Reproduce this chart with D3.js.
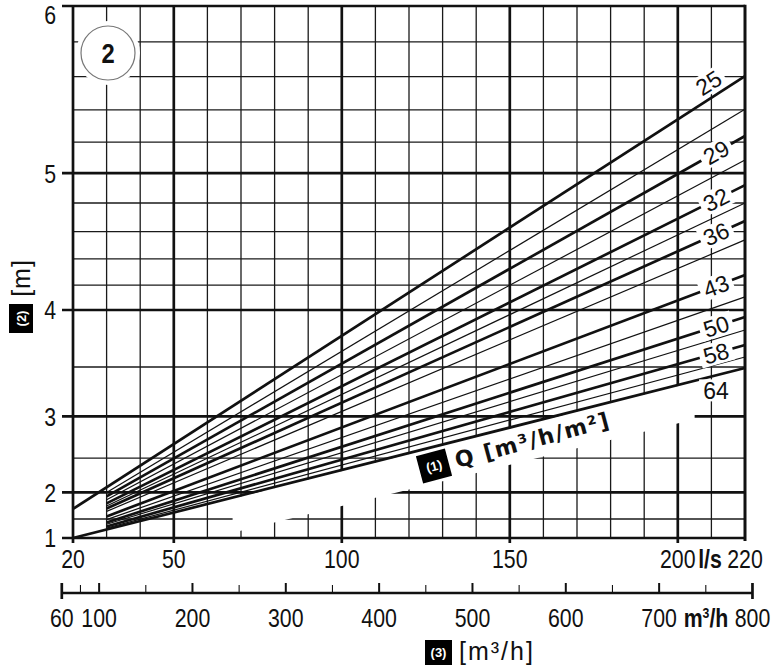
<!DOCTYPE html>
<html><head><meta charset="utf-8">
<script src="https://cdn.jsdelivr.net/npm/d3@7"></script>
<style>body{margin:0;background:#fff}</style>
</head><body><svg id="c" width="783" height="667"></svg>
<script>
// ---------- data ----------
const qDomain = [20, 220];            // l/s
const hDomain = [1, 6];               // m
const xTickValues = [20, 50, 100, 150, 200, 220];
const yTickValues = [1, 2, 3, 4, 5, 6];
const vGridMajor = [50, 100, 150, 200];
const vGridMinor = [30, 40, 60, 70, 80, 90, 110, 120, 130, 140, 160, 170, 180, 190, 210];
const hGridMajor = [2, 3, 4, 5];
const hGridMinor = [1.5, 2.5, 3.5, 4.2, 4.4, 4.6, 4.8, 5.2, 5.4, 5.6, 5.8];
const m3hMajor = [100, 200, 300, 400, 500, 600, 700];
const m3hMinor = [80, 150, 250, 350, 450, 550, 650, 750];
const m3hEnds = [60, 800];
const m3hLabels = [60, 100, 200, 300, 400, 500, 600, 700, 800];
const seriesLabels = ["25","","29","","32","","36","","43","","50","","58","","64"];
const seriesStartQ = [20,30,30,30,30,30,30,30,30,30,30,30,30,30,20];
const seriesStartH = [1.706,1.998,1.933,1.874,1.810,1.762,1.713,1.658,1.556,1.487,1.423,1.379,1.326,1.283,1.0];
const seriesEndQ  = [220,220,220,220,220,220,220,220,220,220,220,220,220,220,220];
const seriesEndH  = [5.603,5.405,5.239,5.086,4.921,4.800,4.675,4.540,4.278,4.106,3.942,3.832,3.701,3.593,3.490];
const labelQ = 211.4;
const maskQ = [67.5, 205];
const maskLowH = [1.158, 2.968];

// ---------- scales ----------
const x = d3.scaleLinear().domain(qDomain).range([73, 745]);
const y = d3.scalePow().exponent(2).domain(hDomain).range([538, 6]);
const xm = v => x(v / 3.6);

const svg = d3.select("#c");
const SANS = "'Liberation Sans',Arial,sans-serif";
const ink = "#111";
const NX = 0.82; // horizontal condensing for the narrow axis font

function ntext(parent, px, py, txt, opts = {}) {
  const t = parent.append("text")
    .attr("transform", `translate(${px},${py}) scale(${opts.sx || NX},1)`)
    .attr("text-anchor", opts.anchor || "middle")
    .attr("font-family", SANS).attr("font-size", opts.size || 26)
    .attr("font-weight", opts.bold ? "bold" : "normal").attr("fill", ink);
  if (opts.dy) t.attr("dy", opts.dy);
  if (opts.html) t.html(txt); else t.text(txt);
  return t;
}

// ---------- grid ----------
const g = svg.append("g");
g.selectAll(".hmin").data(hGridMinor).join("line")
  .attr("x1", x(20)).attr("x2", x(220)).attr("y1", d => y(d)).attr("y2", d => y(d))
  .attr("stroke", "#1a1a1a").attr("stroke-width", 1.3);
g.selectAll(".vmin").data(vGridMinor).join("line")
  .attr("y1", y(1)).attr("y2", y(6)).attr("x1", d => x(d)).attr("x2", d => x(d))
  .attr("stroke", "#1a1a1a").attr("stroke-width", 1.3);
g.selectAll(".hmaj").data(hGridMajor.concat([1, 6])).join("line")
  .attr("x1", 62).attr("x2", x(220)).attr("y1", d => y(d)).attr("y2", d => y(d))
  .attr("stroke", ink).attr("stroke-width", 2.7);
g.selectAll(".vmaj").data(vGridMajor.concat([20])).join("line")
  .attr("y1", y(1) + 5).attr("y2", y(6)).attr("x1", d => x(d)).attr("x2", d => x(d))
  .attr("stroke", ink).attr("stroke-width", 2.7);
g.append("line").attr("x1", x(220)).attr("x2", x(220)).attr("y1", y(1) + 3).attr("y2", y(6) - 1.3)
  .attr("stroke", ink).attr("stroke-width", 3);

// ---------- mask band under the curves ----------
const lineAt = (i, q) => {
  const x0 = x(seriesStartQ[i]), y0 = y(seriesStartH[i]);
  const x1 = x(seriesEndQ[i]), y1 = y(seriesEndH[i]);
  return y0 + (y1 - y0) * (x(q) - x0) / (x1 - x0);
};
const last = seriesLabels.length - 1;
svg.append("polygon")
  .attr("points", [
    [x(maskQ[0]), lineAt(last, maskQ[0]) + 1],
    [x(maskQ[1]), lineAt(last, maskQ[1]) + 1],
    [x(maskQ[1]), y(maskLowH[1])],
    [x(maskQ[0]), y(maskLowH[0])]
  ].map(p => p.join(",")).join(" "))
  .attr("fill", "#fff");

// circle "2"
svg.append("circle").attr("cx", 108).attr("cy", 53).attr("r", 32).attr("fill", "#fff");
svg.append("circle").attr("cx", 108).attr("cy", 53).attr("r", 27).attr("fill", "#fff")
  .attr("stroke", "#777").attr("stroke-width", 1.2);
ntext(svg, 108, 63, "2", { size: 28, bold: true, sx: 0.85 });

// ---------- series lines ----------
const series = seriesLabels.map((lab, i) => ({
  lab, pts: [[seriesStartQ[i], seriesStartH[i]], [seriesEndQ[i], seriesEndH[i]]]
}));
const line = d3.line().x(d => x(d[0])).y(d => y(d[1]));
svg.append("g").selectAll("path").data(series).join("path")
  .attr("d", d => line(d.pts)).attr("fill", "none").attr("stroke", ink)
  .attr("stroke-width", d => d.lab ? 2.7 : 1.2);

// ---------- series labels ----------
const lg = svg.append("g");
series.forEach((s, i) => {
  if (!s.lab) return;
  const x0 = x(s.pts[0][0]), y0 = y(s.pts[0][1]);
  const x1 = x(s.pts[1][0]), y1 = y(s.pts[1][1]);
  let ang = Math.atan2(y1 - y0, x1 - x0) * 180 / Math.PI;
  let px = x(labelQ), py = lineAt(i, labelQ);
  if (i === 0) { const r = ang * Math.PI / 180; px += 14 * Math.sin(r); py -= 14 * Math.cos(r); }
  if (i === last) { ang = 0; py += 15; }
  const t = lg.append("g").attr("transform", `translate(${px},${py}) rotate(${ang})`);
  t.append("rect").attr("x", -17).attr("y", -11).attr("width", 34).attr("height", 22).attr("fill", "#fff");
  t.append("text").attr("text-anchor", "middle").attr("dy", "0.36em")
    .attr("font-family", SANS).attr("font-size", 23).attr("fill", ink).text(s.lab);
});

// ---------- y axis labels ----------
const yl = svg.append("g");
yTickValues.forEach(d => ntext(yl, 56, Math.max(y(d), 15), d, { anchor: "end", dy: "0.36em" }));

// y title
const yt = svg.append("g").attr("transform", "translate(21,300) rotate(-90)");
yt.append("text").attr("x", 22).attr("y", 0).attr("dy", "0.36em").attr("text-anchor", "middle")
  .attr("font-family", SANS).attr("font-size", 25).attr("letter-spacing", 1).attr("fill", ink).text("[m]");
yt.append("rect").attr("x", -33).attr("y", -12).attr("width", 29).attr("height", 24).attr("fill", "#000");
yt.append("text").attr("x", -18.5).attr("y", 0).attr("dy", "0.36em").attr("text-anchor", "middle")
  .attr("font-family", SANS).attr("font-weight", "bold").attr("font-size", 13).attr("fill", "#fff").text("(2)");

// ---------- x axis (l/s) labels ----------
const xl = svg.append("g");
xTickValues.forEach(d => ntext(xl, x(d), 568, d));
ntext(svg, 710, 568, "l/s", { bold: true });

// ---------- m3/h axis ----------
const axY = 593;
const ag = svg.append("g");
ag.append("line").attr("x1", xm(60)).attr("x2", xm(800)).attr("y1", axY).attr("y2", axY)
  .attr("stroke", ink).attr("stroke-width", 2.7);
ag.selectAll(".mj").data(m3hMajor).join("line")
  .attr("x1", d => xm(d)).attr("x2", d => xm(d)).attr("y1", axY - 10).attr("y2", axY)
  .attr("stroke", ink).attr("stroke-width", 2);
ag.selectAll(".mn").data(m3hMinor).join("line")
  .attr("x1", d => xm(d)).attr("x2", d => xm(d)).attr("y1", axY - 8).attr("y2", axY)
  .attr("stroke", ink).attr("stroke-width", 1.1);
ag.selectAll(".me").data(m3hEnds).join("line")
  .attr("x1", d => xm(d)).attr("x2", d => xm(d)).attr("y1", axY - 10).attr("y2", axY + 6)
  .attr("stroke", ink).attr("stroke-width", 2.7);
m3hLabels.forEach(d => ntext(ag, xm(d), 627, d));
ntext(svg, 706, 627, "m<tspan dy='-9' font-size='15'>3</tspan><tspan dy='9'>/h</tspan>", { bold: true, html: true });

// bottom title
svg.append("rect").attr("x", 425).attr("y", 640).attr("width", 27).attr("height", 25).attr("fill", "#000");
svg.append("text").attr("x", 438.5).attr("y", 652.5).attr("dy", "0.36em").attr("text-anchor", "middle")
  .attr("font-family", SANS).attr("font-weight", "bold").attr("font-size", 13).attr("fill", "#fff").text("(3)");
svg.append("text").attr("x", 459).attr("y", 660)
  .attr("font-family", SANS).attr("font-size", 25).attr("letter-spacing", 2).attr("fill", ink)
  .text("[m³/h]");

// ---------- Q label on the band ----------
const ql = svg.append("g").attr("transform", "translate(434,466) rotate(-15)");
ql.append("rect").attr("x", -15).attr("y", -14).attr("width", 30).attr("height", 28).attr("fill", "#000");
ql.append("text").attr("x", 0).attr("y", 0).attr("dy", "0.36em").attr("text-anchor", "middle")
  .attr("font-family", SANS).attr("font-weight", "bold").attr("font-size", 13).attr("fill", "#fff").text("(1)");
ql.append("text").attr("x", 22).attr("y", 8)
  .attr("font-family", "'DejaVu Sans',Verdana,sans-serif").attr("font-weight", "bold")
  .attr("font-size", 22).attr("letter-spacing", 1.5).attr("fill", ink).text("Q [m³/h/m²]");
</script></body></html>
